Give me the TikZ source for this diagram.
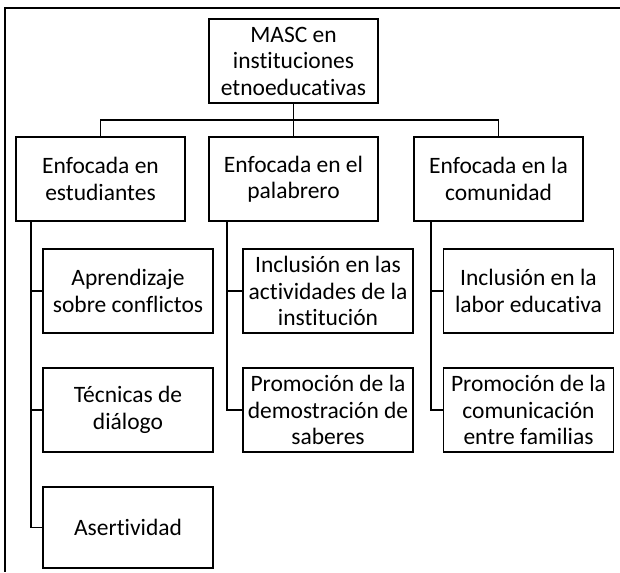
\documentclass[tikz,border=0pt]{standalone}
\usepackage{fontspec}
\setmainfont{Carlito}[Ligatures={NoCommon}]
\begin{document}
\begin{tikzpicture}[x=1pt,y=-1pt,
  box/.style={draw, line width=1.7pt, minimum width=169pt, minimum height=84pt,
    inner sep=0pt, align=center, font=\fontsize{23.5}{26.5}\selectfont},
  kid/.style={box, minimum width=170pt},
  link/.style={line width=1.7pt}]
\useasboundingbox (0,0) rectangle (620,572);
\draw[line width=1.8pt] (620,8) -- (5,8) -- (5,572);

\node[box] (root) at (293.5,61) {MASC en\\instituciones\\etnoeducativas};
\node[box] (e1) at (100.5,179) {Enfocada en\\estudiantes};
\node[box] (e2) at (293.5,179) {Enfocada en el\\palabrero};
\node[box] (e3) at (498.5,179) {Enfocada en la\\comunidad};

\node[kid] (a1) at (128,291) {Aprendizaje\\sobre conflictos};
\node[kid] (a2) at (128,410) {Técnicas de\\diálogo};
\node[kid, minimum height=81pt] (a3) at (128,527.5) {Asertividad};

\node[kid] (b1) at (328,291) {Inclusión en las\\actividades de la\\institución};
\node[kid] (b2) at (328,410) {Promoción de la\\demostración de\\saberes};

\node[kid] (c1) at (528.5,291) {Inclusión en la\\labor educativa};
\node[kid] (c2) at (528.5,410) {Promoción de la\\comunicación\\entre familias};

\draw[link] (root.south) -- ++(0,16) -| (e1.north);
\draw[link] (root.south) -- ++(0,16) -| (e3.north);
\draw[link] (root.south) -- (e2.north);

\foreach \c in {a1,a2,a3}
  \draw[link] ([xshift=16pt]e1.south west) |- (\c.west);
\foreach \c in {b1,b2}
  \draw[link] ([xshift=19pt]e2.south west) |- (\c.west);
\foreach \c in {c1,c2}
  \draw[link] ([xshift=18pt]e3.south west) |- (\c.west);
\end{tikzpicture}
\end{document}
